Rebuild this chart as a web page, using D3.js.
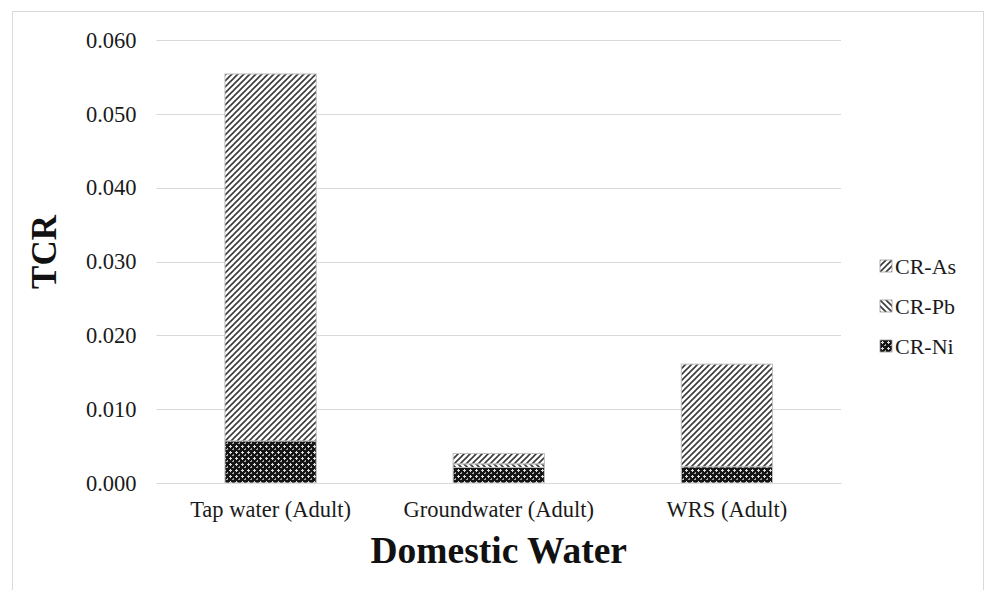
<!DOCTYPE html>
<html>
<head>
<meta charset="utf-8">
<script src="https://cdn.jsdelivr.net/npm/d3@7"></script>
<style>
  html, body { margin: 0; padding: 0; background: #fff; }
  svg { display: block; }
  svg text { font-family: "Liberation Serif", "Times New Roman", serif; }
</style>
</head>
<body>
<script>
// Total carcinogenic risk by domestic water source
const categories = ["Tap water (Adult)", "Groundwater (Adult)", "WRS (Adult)"];
const crNi = [0.0057, 0.0021, 0.0022];
const crPb = [0.0000, 0.0005, 0.0000];
const crAs = [0.0497, 0.0014, 0.0139];
const yTicks = [0, 0.01, 0.02, 0.03, 0.04, 0.05, 0.06];
const seriesNames = ["CR-Ni", "CR-Pb", "CR-As"];

const W = 987, H = 590;
const margin = { left: 156.5, right: 146, top: 40, bottom: 107 };
const SERIF = '"Liberation Serif", "Times New Roman", serif';

const svg = d3.select("body").append("svg").attr("width", W).attr("height", H);

// patterns
const defs = svg.append("defs");
const pAs = defs.append("pattern").attr("id", "pat-as").attr("patternUnits", "userSpaceOnUse")
  .attr("width", 6).attr("height", 6);
pAs.append("rect").attr("width", 6).attr("height", 6).attr("fill", "#fff");
pAs.append("path").attr("d", "M-1,1 L1,-1 M0,6 L6,0 M5,7 L7,5")
  .attr("stroke", "#3a3a3a").attr("stroke-width", 1.6);

const pPb = defs.append("pattern").attr("id", "pat-pb").attr("patternUnits", "userSpaceOnUse")
  .attr("width", 6).attr("height", 6);
pPb.append("rect").attr("width", 6).attr("height", 6).attr("fill", "#fff");
pPb.append("path").attr("d", "M-1,5 L1,7 M0,0 L6,6 M5,-1 L7,1")
  .attr("stroke", "#3a3a3a").attr("stroke-width", 1.6);

const pNi = defs.append("pattern").attr("id", "pat-ni").attr("patternUnits", "userSpaceOnUse")
  .attr("width", 6).attr("height", 6);
pNi.append("rect").attr("width", 6).attr("height", 6).attr("fill", "#151515");
pNi.append("rect").attr("x", 1).attr("y", 2).attr("width", 3).attr("height", 1).attr("fill", "#ddd");
pNi.append("rect").attr("x", 2).attr("y", 1).attr("width", 1).attr("height", 3).attr("fill", "#ddd");
pNi.append("rect").attr("x", 4).attr("y", 5).attr("width", 2).attr("height", 1).attr("fill", "#aaa");
pNi.append("rect").attr("x", 5).attr("y", 4).attr("width", 1).attr("height", 1).attr("fill", "#aaa");

const fills = { "CR-Ni": "url(#pat-ni)", "CR-Pb": "url(#pat-pb)", "CR-As": "url(#pat-as)" };

// chart frame
svg.append("rect").attr("x", 12.5).attr("y", 11.5).attr("width", 971).attr("height", 600)
  .attr("fill", "none").attr("stroke", "#d9d9d9").attr("stroke-width", 1);

const x = d3.scaleBand().domain(categories)
  .range([margin.left, W - margin.right]).paddingInner(0.6).paddingOuter(0.3);
const y = d3.scaleLinear().domain([0, 0.06]).range([H - margin.bottom, margin.top]);

// gridlines
svg.append("g").selectAll("line").data(yTicks).join("line")
  .attr("x1", margin.left).attr("x2", W - margin.right)
  .attr("y1", d => Math.round(y(d)) + 0.5).attr("y2", d => Math.round(y(d)) + 0.5)
  .attr("stroke", "#d9d9d9").attr("stroke-width", 1);

// stacked bars
const rows = categories.map((c, i) => ({ cat: c, "CR-Ni": crNi[i], "CR-Pb": crPb[i], "CR-As": crAs[i] }));
const stack = d3.stack().keys(seriesNames)(rows);

svg.append("g").selectAll("g").data(stack).join("g")
  .attr("fill", d => fills[d.key])
  .selectAll("rect").data(d => d.filter(p => p[1] - p[0] > 0)).join("rect")
  .attr("x", d => x(d.data.cat))
  .attr("width", x.bandwidth())
  .attr("y", d => y(d[1]))
  .attr("height", d => y(d[0]) - y(d[1]))
  .attr("stroke", "#bfbfbf").attr("stroke-width", 1);

// axes labels
const yAxis = d3.axisLeft(y).tickValues(yTicks).tickFormat(d3.format(".3f")).tickSize(0).tickPadding(20);
const gy = svg.append("g").attr("transform", `translate(${margin.left},0)`).call(yAxis);
gy.attr("font-family", null).attr("font-size", null);
gy.select(".domain").remove();
gy.selectAll("text").style("font-family", SERIF)
  .style("font-size", "22.5px").attr("fill", "#1a1a1a");

const xAxis = d3.axisBottom(x).tickSize(0).tickPadding(18);
const gx = svg.append("g").attr("transform", `translate(0,${H - margin.bottom})`).call(xAxis);
gx.attr("font-family", null).attr("font-size", null);
gx.select(".domain").attr("stroke", "#d9d9d9");
gx.selectAll("text").style("font-family", SERIF)
  .style("font-size", "22.5px").attr("fill", "#1a1a1a");

// axis titles
svg.append("text").attr("transform", `translate(56,252) rotate(-90)`)
  .attr("text-anchor", "middle").style("font-family", SERIF)
  .style("font-weight", "bold").style("font-size", "35px").attr("fill", "#111").text("TCR");
svg.append("text").attr("x", (margin.left + W - margin.right) / 2).attr("y", 563)
  .attr("text-anchor", "middle").style("font-family", SERIF)
  .style("font-weight", "bold").style("font-size", "37.5px").attr("fill", "#111").text("Domestic Water");

// legend
const legendOrder = ["CR-As", "CR-Pb", "CR-Ni"];
const lg = svg.append("g").selectAll("g").data(legendOrder).join("g")
  .attr("transform", (d, i) => `translate(880,${266 + i * 40})`);
lg.append("rect").attr("x", 0).attr("y", -6).attr("width", 12).attr("height", 12)
  .attr("fill", d => fills[d]).attr("stroke", "#999").attr("stroke-width", 0.8);
lg.append("text").attr("x", 15).attr("y", 0).attr("dy", "0.35em")
  .style("font-family", SERIF)
  .style("font-size", "22px").attr("fill", "#1a1a1a").text(d => d);
</script>
</body>
</html>
